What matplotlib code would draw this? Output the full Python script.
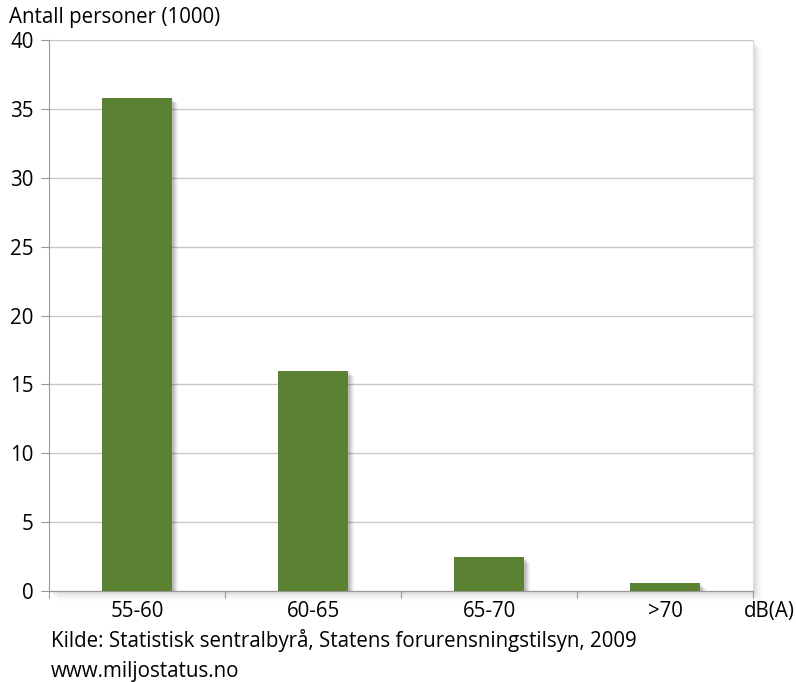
import matplotlib
matplotlib.use("Agg")
import matplotlib.pyplot as plt
import matplotlib.patheffects as pe
from matplotlib.patches import Rectangle

# Data
kategorier = ["55-60", "60-65", "65-70", ">70"]
personer = [35.8, 16.0, 2.45, 0.6]  # antall personer (1000)
y_ticks = [0, 5, 10, 15, 20, 25, 30, 35, 40]

plt.rcParams["font.family"] = ["Open Sans", "DejaVu Sans"]
fs = 14.8

fig = plt.figure(figsize=(7.96, 6.82), dpi=100)
# Achsenbereich in Pixel: x 49..753, y 40..591
ax = fig.add_axes([49 / 796, 1 - 591 / 682, 704 / 796, 551 / 682])

# weicher Schatten hinter dem Plotbereich
for i, a in enumerate([0.05, 0.04, 0.03, 0.02, 0.01]):
    d = (i + 1) * 2
    fig.patches.append(Rectangle((49 / 796 + d / 796, 1 - 591 / 682 - d / 682),
                                 704 / 796, 551 / 682, transform=fig.transFigure,
                                 facecolor="black", alpha=a, edgecolor="none", zorder=0))
ax.set_facecolor("white")
ax.set_zorder(1)

x = range(len(kategorier))
bars = ax.bar(x, personer, width=0.4, color="#5b8233", zorder=3)
schatten = [pe.SimplePatchShadow(offset=(d, -d), alpha=0.07, shadow_rgbFace="black")
            for d in (4, 3, 2, 1)]
for b in bars:
    b.set_path_effects(schatten + [pe.Normal()])

ax.set_xlim(-0.5, 3.5)
ax.set_ylim(0, 40)
ax.set_yticks(y_ticks)
ax.grid(axis="y", color="#c8c8c8", linewidth=1.0, zorder=0)

# Tickmarks an Kategoriegrenzen
ax.set_xticks([-0.5, 0.5, 1.5, 2.5, 3.5])
ax.set_xticklabels([])
ax.set_xticks(list(x), minor=True)
ax.set_xticklabels(kategorier, minor=True)
ax.tick_params(axis="x", which="major", length=5, direction="out", color="#999999")
ax.tick_params(axis="x", which="minor", length=0, labelsize=fs, pad=7)
ax.tick_params(axis="y", length=6, color="#999999", labelsize=fs, pad=5)

for s in ["left", "bottom"]:
    ax.spines[s].set_color("#999999")
ax.spines["top"].set_visible(False)
ax.spines["right"].set_color("#dddddd")

fig.text(9 / 796, 1 - 18 / 682, "Antall personer (1000)", fontsize=fs, va="center", ha="left")
fig.text(795 / 796, 1 - 611 / 682, "dB(A)", fontsize=fs, va="center", ha="right")
fig.text(51 / 796, 1 - 641 / 682, "Kilde: Statistisk sentralbyrå, Statens forurensningstilsyn, 2009",
         fontsize=fs, va="center", ha="left")
fig.text(51 / 796, 1 - 671 / 682, "www.miljostatus.no", fontsize=fs, va="center", ha="left")

fig.savefig("out.png", dpi=100)
